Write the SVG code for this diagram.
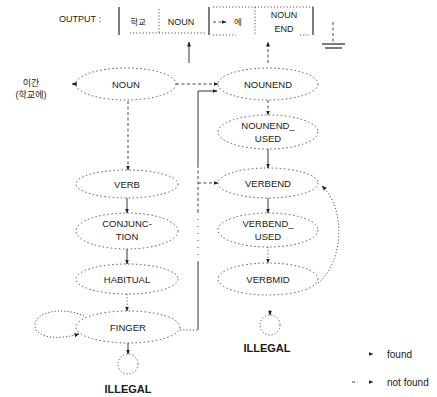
<svg xmlns="http://www.w3.org/2000/svg" width="437" height="397" viewBox="0 0 437 397">
<defs>
<marker id="ah" viewBox="0 0 10 10" refX="9" refY="5" markerUnits="userSpaceOnUse" markerWidth="5" markerHeight="5" orient="auto"><path d="M0,1 L10,5 L0,9 z" fill="#222"/></marker>
</defs>
<style>
text{font-family:"Liberation Sans",Arial,"Noto Sans CJK KR",sans-serif;fill:#1a1a1a;text-anchor:middle}
.lb{font-size:9.5px}
.ill{font-size:11px;font-weight:bold}
.node{fill:none;stroke:#444;stroke-width:0.9;stroke-dasharray:1.5 2.5}
.solid{fill:none;stroke:#222;stroke-width:0.9}
.dash{fill:none;stroke:#333;stroke-width:0.9;stroke-dasharray:3 2.5}
.dot{fill:none;stroke:#444;stroke-width:0.9;stroke-dasharray:1.2 2}
.box{fill:none;stroke:#111;stroke-width:1.1}
</style>
<rect width="437" height="397" fill="#fff"/>

<g id="output">
<text x="80" y="22" class="lb" style="font-size:9px">OUTPUT :</text>
<line x1="119" y1="7" x2="119" y2="35" class="box"/>
<text x="138" y="25" class="lb" style="font-size:8.5px">학교</text>
<line x1="159" y1="9" x2="159" y2="33" class="dot"/>
<text x="181" y="25" class="lb" style="font-size:9px">NOUN</text>
<line x1="209" y1="7" x2="209" y2="35" class="box"/>
<line x1="130" y1="33" x2="205" y2="33" class="dot"/>
<line x1="213" y1="22" x2="226" y2="22" class="dash" marker-end="url(#ah)"/>
<text x="238" y="25" class="lb" style="font-size:8.5px">에</text>
<line x1="255" y1="7" x2="255" y2="35" class="dot"/>
<line x1="213" y1="7" x2="313" y2="7" class="dot"/>
<line x1="213" y1="35" x2="236" y2="35" class="dot"/>
<line x1="300" y1="35" x2="310" y2="35" class="dot"/>
<text x="284" y="18" class="lb" style="font-size:9px">NOUN</text>
<text x="284" y="32" class="lb" style="font-size:9px">END</text>
<line x1="313" y1="7" x2="313" y2="35" class="box"/>
<line x1="333" y1="22" x2="333" y2="43" class="dash"/>
<line x1="322" y1="44" x2="345" y2="44" class="box"/>
<line x1="325" y1="48" x2="342" y2="48" class="box"/>
</g>

<g id="result-label">
<text x="31" y="86" class="lb" style="font-size:9px">이간</text>
<text x="31" y="98" class="lb" style="font-size:9px">(학교에)</text>
</g>

<g id="NOUN"><ellipse cx="126" cy="84" rx="50" ry="16" class="node"/><text x="126" y="87.5" class="lb">NOUN</text></g>
<g id="VERB"><ellipse cx="127" cy="184" rx="51" ry="14" class="node"/><text x="127" y="187.5" class="lb">VERB</text></g>
<g id="CONJUNCTION"><ellipse cx="127" cy="231" rx="51" ry="18" class="node"/><text x="127" y="227" class="lb">CONJUNC-</text><text x="127" y="240" class="lb">TION</text></g>
<g id="HABITUAL"><ellipse cx="127" cy="279" rx="51" ry="15" class="node"/><text x="127" y="282.5" class="lb">HABITUAL</text></g>
<g id="FINGER"><ellipse cx="128" cy="327" rx="52" ry="16" class="node"/><text x="128" y="330.5" class="lb">FINGER</text></g>
<g id="ILLEGAL-left"><circle cx="128" cy="364" r="10" class="dot"/><text x="128" y="393" class="ill">ILLEGAL</text></g>

<g id="NOUNEND"><ellipse cx="268" cy="84" rx="50" ry="16" class="node"/><text x="268" y="87.5" class="lb">NOUNEND</text></g>
<g id="NOUNEND_USED"><ellipse cx="268" cy="132" rx="50" ry="17" class="node"/><text x="268" y="129" class="lb">NOUNEND_</text><text x="268" y="142" class="lb">USED</text></g>
<g id="VERBEND"><ellipse cx="268" cy="183" rx="50" ry="15" class="node"/><text x="268" y="186.5" class="lb">VERBEND</text></g>
<g id="VERBEND_USED"><ellipse cx="268" cy="230" rx="50" ry="17" class="node"/><text x="268" y="227" class="lb">VERBEND_</text><text x="268" y="240" class="lb">USED</text></g>
<g id="VERBMID"><ellipse cx="268" cy="279" rx="50" ry="16" class="node"/><text x="268" y="282.5" class="lb">VERBMID</text></g>
<g id="ILLEGAL-right"><circle cx="270" cy="325" r="10" class="dot"/><text x="267" y="352" class="ill">ILLEGAL</text></g>

<g id="connectors">
<line x1="189" y1="63" x2="189" y2="42" class="solid" marker-end="url(#ah)"/>
<line x1="268" y1="63" x2="268" y2="42" class="dash" marker-end="url(#ah)"/>
<line x1="77" y1="84" x2="72" y2="84" class="solid" marker-end="url(#ah)"/>
<line x1="128" y1="101" x2="128" y2="170" class="dash" marker-end="url(#ah)"/>
<line x1="127" y1="198" x2="127" y2="213" class="solid" marker-end="url(#ah)"/>
<line x1="127" y1="249" x2="127" y2="264" class="solid" marker-end="url(#ah)"/>
<line x1="127" y1="294" x2="127" y2="311" class="dot" marker-end="url(#ah)"/>
<line x1="128" y1="343" x2="128" y2="354" class="solid" marker-end="url(#ah)"/>
<path d="M84 316 C62 306 34 312 35 326 C37 340 62 339 79 334" class="dot" marker-end="url(#ah)"/>
<line x1="176" y1="84" x2="218" y2="84" class="dash" marker-end="url(#ah)"/>
<line x1="180" y1="330" x2="198" y2="330" class="dot"/>
<line x1="198" y1="330" x2="198" y2="262" class="solid"/>
<line x1="198" y1="262" x2="198" y2="212" class="dot" style="stroke-dasharray:1 6"/>
<line x1="198" y1="212" x2="198" y2="165" class="dash"/>
<line x1="198" y1="165" x2="198" y2="91" class="solid"/>
<line x1="198" y1="91" x2="217" y2="91" class="solid" marker-end="url(#ah)"/>
<line x1="198" y1="183" x2="218" y2="183" class="dash" marker-end="url(#ah)"/>
<line x1="268" y1="100" x2="268" y2="115" class="dash" marker-end="url(#ah)"/>
<line x1="268" y1="149" x2="268" y2="168" class="solid" marker-end="url(#ah)"/>
<line x1="268" y1="198" x2="268" y2="213" class="solid" marker-end="url(#ah)"/>
<line x1="268" y1="247" x2="268" y2="263" class="dot" marker-end="url(#ah)"/>
<line x1="270" y1="310" x2="270" y2="315" class="solid" marker-end="url(#ah)"/>
<path d="M318 283 C344 262 346 208 322 186" class="dot" marker-end="url(#ah)"/>
</g>

<g id="legend">
<line x1="366" y1="354" x2="373" y2="354" class="solid" style="stroke-width:0" marker-end="url(#ah)"/>
<text x="387" y="357.5" class="lb" style="text-anchor:start;font-size:10px">found</text>
<line x1="352" y1="382" x2="358" y2="382" class="dash"/>
<line x1="366" y1="382" x2="373" y2="382" class="solid" style="stroke-width:0" marker-end="url(#ah)"/>
<text x="387" y="385.5" class="lb" style="text-anchor:start;font-size:10px">not found</text>
</g>
</svg>
